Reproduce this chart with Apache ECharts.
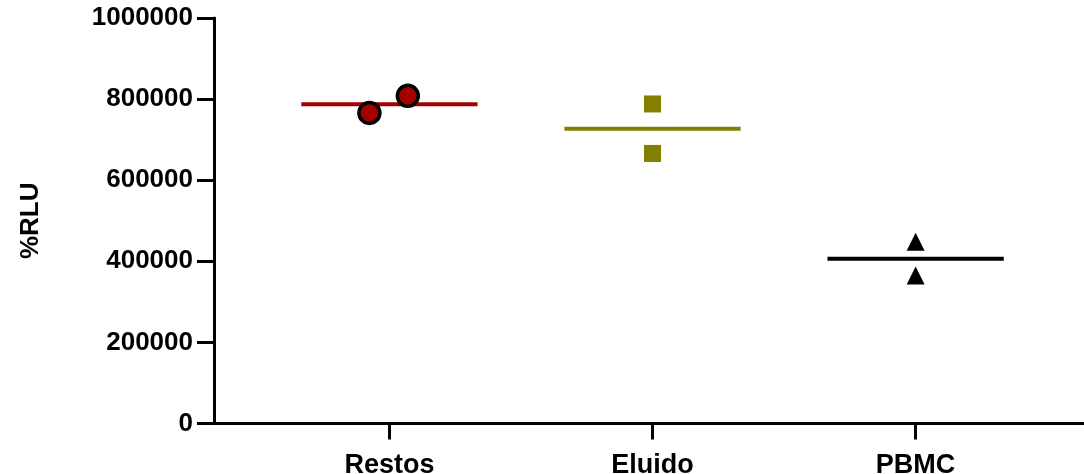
<!DOCTYPE html>
<html>
<head>
<meta charset="utf-8">
<script src="https://cdn.jsdelivr.net/npm/echarts@6/dist/echarts.min.js"></script>
<style>
html,body{margin:0;padding:0;background:#fff;}
#chart{width:1084px;height:474px;}
</style>
</head>
<body>
<div id="chart"></div>
<script>
// ---- data ----
var categories = ['Restos', 'Eluido', 'PBMC'];
var restosValues = [766000, 808000];
var restosJitter = [-0.076, 0.07];
var eluidoValues = [788000, 666000];
var pbmcValues = [448000, 365000];
var yTicks = [0, 200000, 400000, 600000, 800000, 1000000];
var yAxisName = '%RLU';

function mean(a){ var s=0; for (var i=0;i<a.length;i++) s+=a[i]; return s/a.length; }
var FONT = "'Liberation Sans', Arial, sans-serif";
var HALF = 0.335;

function pts(pos, vals, jit){
  return vals.map(function(v,i){ return [pos + (jit ? jit[i] : 0), v]; });
}
function meanLine(pos, vals){
  var m = mean(vals);
  return [[pos - HALF, m], [pos + HALF, m]];
}

var groups = [
  {vals: restosValues, jit: restosJitter, color: '#a30000', symbol: 'circle', size: 21, border: 3.5},
  {vals: eluidoValues, jit: null, color: '#838000', symbol: 'rect', size: 17, border: 0},
  {vals: pbmcValues, jit: null, color: '#000000', symbol: 'triangle', size: 18, border: 0}
];

var series = [];
groups.forEach(function(g, i){
  var pos = i + 1;
  series.push({
    type: 'line',
    data: meanLine(pos, g.vals),
    symbol: 'none',
    lineStyle: {color: g.color, width: 4},
    silent: true,
    z: 2
  });
  series.push({
    type: 'scatter',
    data: pts(pos, g.vals, g.jit),
    symbol: g.symbol,
    symbolSize: g.size,
    itemStyle: {color: g.color, borderColor: '#000', borderWidth: g.border, opacity: 1},
    z: 3
  });
});

var chart = echarts.init(document.getElementById('chart'));
chart.setOption({
  animation: false,
  grid: {left: 214, top: 18, width: 877, bottom: 50.5, containLabel: false, outerBoundsMode: 'none'},
  xAxis: {
    type: 'value',
    min: 1/3,
    max: 11/3,
    splitLine: {show: false},
    axisLine: {show: true, onZero: false, lineStyle: {color: '#000', width: 3}},
    axisTick: {show: true, customValues: [1,2,3], length: 16, lineStyle: {color: '#000', width: 3}},
    axisLabel: {
      customValues: [1,2,3],
      formatter: function(v){ return categories[Math.round(v) - 1]; },
      color: '#000', fontSize: 27, fontWeight: 'bold', fontFamily: FONT, margin: 29
    }
  },
  yAxis: {
    type: 'value',
    min: yTicks[0],
    max: yTicks[yTicks.length - 1],
    interval: yTicks[1] - yTicks[0],
    name: yAxisName,
    nameLocation: 'middle',
    nameGap: 170,
    nameTextStyle: {color: '#000', fontSize: 26, fontWeight: 'bold', fontFamily: FONT},
    splitLine: {show: false},
    axisLine: {show: true, lineStyle: {color: '#000', width: 3}},
    axisTick: {show: true, length: 17, lineStyle: {color: '#000', width: 3}},
    axisLabel: {
      formatter: function(v){ return String(v); },
      color: '#000', fontSize: 26, fontWeight: 'bold', fontFamily: FONT, margin: 21
    }
  },
  series: series
});
</script>
</body>
</html>
